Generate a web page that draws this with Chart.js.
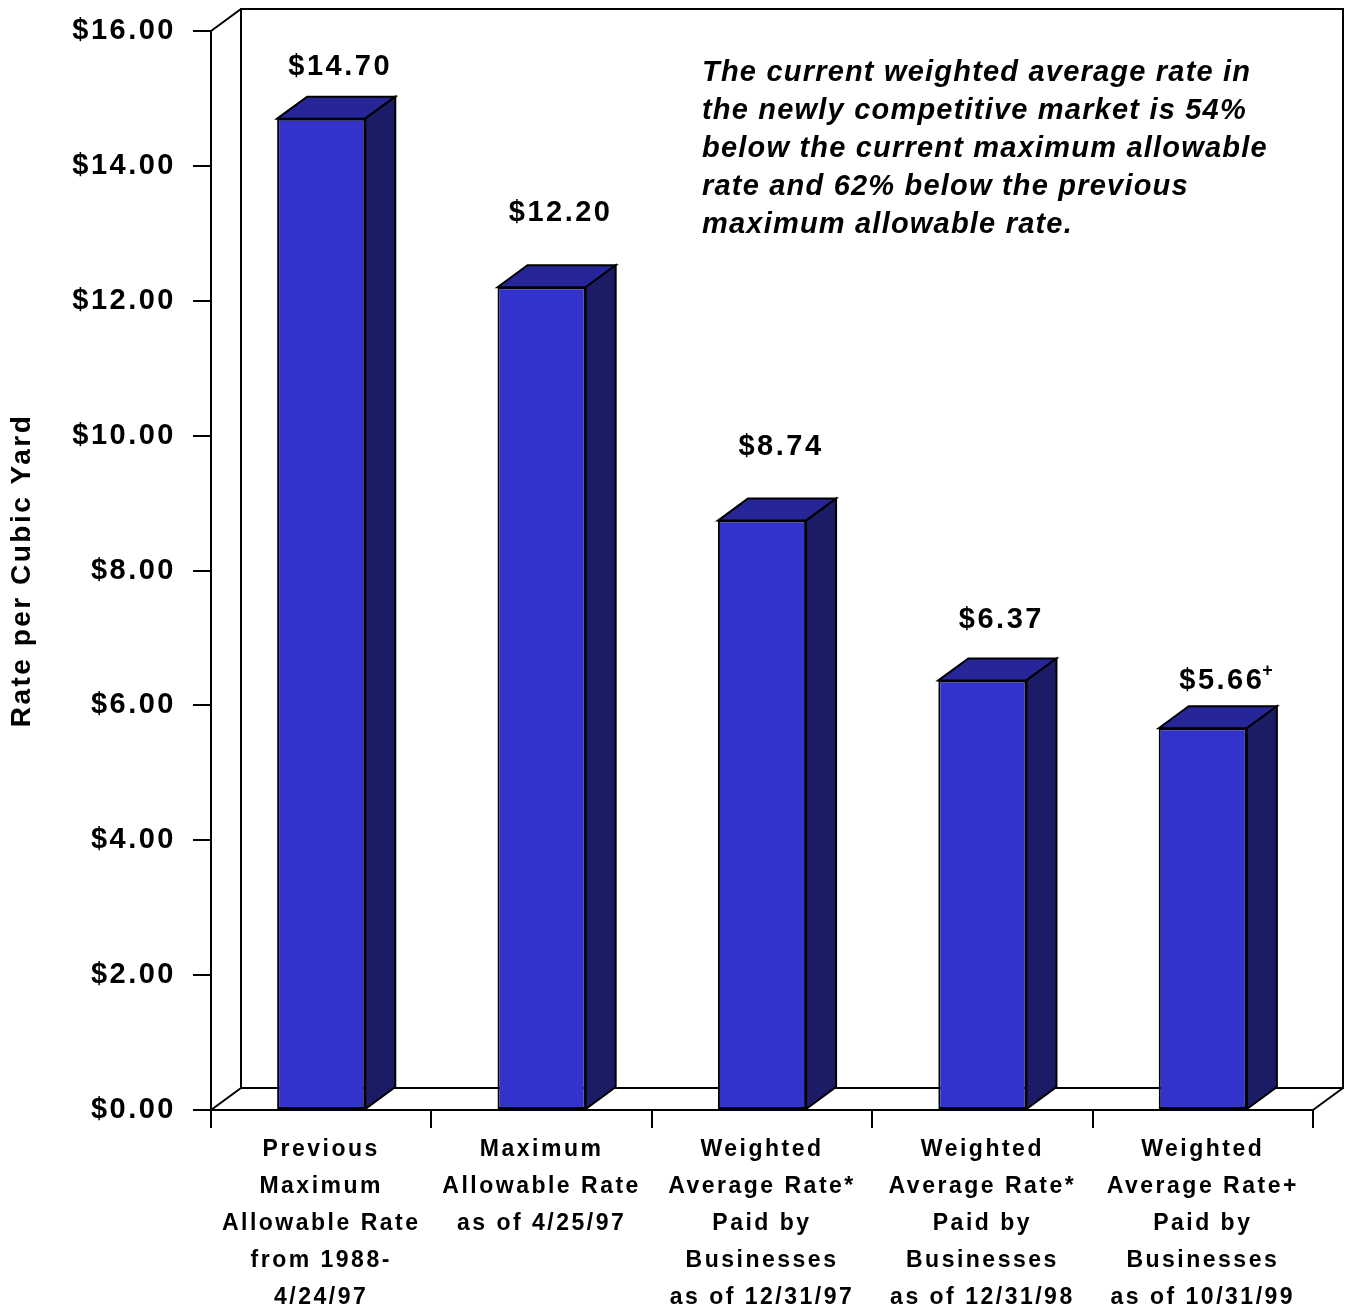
<!DOCTYPE html>
<html>
<head>
<meta charset="utf-8">
<title>Rate per Cubic Yard</title>
<script src="https://cdn.jsdelivr.net/npm/chart.js@4.4.1/dist/chart.umd.min.js"></script>
<style>
  html, body { margin: 0; padding: 0; background: #fff; }
</style>
</head>
<body>
<canvas id="rateChart" width="1351" height="1308"></canvas>
<script>
// categories (multi-line axis labels)
const categories = [
  ['Previous', 'Maximum', 'Allowable Rate', 'from 1988-', '4/24/97'],
  ['Maximum', 'Allowable Rate', 'as of 4/25/97'],
  ['Weighted', 'Average Rate*', 'Paid by', 'Businesses', 'as of 12/31/97'],
  ['Weighted', 'Average Rate*', 'Paid by', 'Businesses', 'as of 12/31/98'],
  ['Weighted', 'Average Rate+', 'Paid by', 'Businesses', 'as of 10/31/99']
];
const rates = [14.70, 12.20, 8.74, 6.37, 5.66];
const rateLabels = ['$14.70', '$12.20', '$8.74', '$6.37', '$5.66'];
const rateMarks = ['', '', '', '', '+'];
const yMax = 16;
const yStep = 2;
const yTitle = 'Rate per Cubic Yard';
const noteLines = [
  'The current weighted average rate in',
  'the newly competitive market is 54%',
  'below the current maximum allowable',
  'rate and 62% below the previous',
  'maximum allowable rate.'
];

// styling: how far each value label sits above the bar's back edge (px)
const labelLift = [30, 52, 52, 38, 25];

const FONT = "'Liberation Sans', Arial, sans-serif";
const DX = 30, DY = -22;   // depth of the 3d look
const FRONT = '#3333CC', TOP = '#262699', SIDE = '#1C1C66';

const spacing = {
  id: 'spacing',
  beforeDraw(chart) {
    chart.ctx.letterSpacing = '2.5px';
  }
};

// back wall, floor and the 3d faces of the bars
const threeD = {
  id: 'threeD',
  beforeDatasetsDraw(chart) {
    const { ctx, chartArea: a } = chart;
    ctx.save();
    ctx.strokeStyle = '#000';
    ctx.lineWidth = 2;
    ctx.beginPath();
    ctx.moveTo(a.left + DX, a.bottom + DY);
    ctx.lineTo(a.left + DX, a.top + DY);
    ctx.lineTo(a.right + DX, a.top + DY);
    ctx.lineTo(a.right + DX, a.bottom + DY);
    ctx.lineTo(a.left + DX, a.bottom + DY);
    ctx.moveTo(a.left, a.top);
    ctx.lineTo(a.left + DX, a.top + DY);
    ctx.moveTo(a.left, a.bottom);
    ctx.lineTo(a.left + DX, a.bottom + DY);
    ctx.moveTo(a.right, a.bottom);
    ctx.lineTo(a.right + DX, a.bottom + DY);
    ctx.stroke();
    ctx.restore();
  },
  afterDatasetsDraw(chart) {
    const ctx = chart.ctx;
    const bars = chart.getDatasetMeta(0).data;
    ctx.save();
    ctx.strokeStyle = '#000';
    ctx.lineWidth = 2;
    ctx.lineJoin = 'miter';
    bars.forEach((bar, i) => {
      const { x, y, width, base } = bar.getProps(['x', 'y', 'width', 'base'], true);
      const l = x - width / 2, r = x + width / 2;

      // top face
      ctx.beginPath();
      ctx.moveTo(l, y);
      ctx.lineTo(l + DX, y + DY);
      ctx.lineTo(r + DX, y + DY);
      ctx.lineTo(r, y);
      ctx.closePath();
      ctx.fillStyle = TOP;
      ctx.fill();
      ctx.stroke();

      // side face
      ctx.beginPath();
      ctx.moveTo(r, y);
      ctx.lineTo(r + DX, y + DY);
      ctx.lineTo(r + DX, base + DY);
      ctx.lineTo(r, base);
      ctx.closePath();
      ctx.fillStyle = SIDE;
      ctx.fill();
      ctx.stroke();

      // value label
      ctx.fillStyle = '#000';
      ctx.letterSpacing = '2.5px';
      ctx.font = 'bold 29px ' + FONT;
      ctx.textAlign = 'center';
      ctx.textBaseline = 'middle';
      const lx = x + DX / 2 + 4, ly = y + DY - labelLift[i];
      ctx.fillText(rateLabels[i], lx, ly);
      if (rateMarks[i]) {
        const w = ctx.measureText(rateLabels[i]).width;
        ctx.font = 'bold 18px ' + FONT;
        ctx.textAlign = 'left';
        ctx.fillText(rateMarks[i], lx + w / 2 - 2, ly - 10);
      }
    });
    ctx.restore();
  },
  afterDraw(chart) {
    const ctx = chart.ctx;
    ctx.save();
    ctx.letterSpacing = '1.2px';
    ctx.fillStyle = '#000';
    ctx.font = 'italic bold 29px ' + FONT;
    ctx.textAlign = 'left';
    ctx.textBaseline = 'middle';
    noteLines.forEach((t, i) => ctx.fillText(t, 702, 73 + i * 38));
    ctx.restore();
  }
};

new Chart(document.getElementById('rateChart'), {
  type: 'bar',
  data: {
    labels: categories,
    datasets: [{
      data: rates,
      backgroundColor: FRONT,
      borderColor: '#000',
      borderWidth: 2,
      borderSkipped: false,
      categoryPercentage: 1,
      barPercentage: 0.4
    }]
  },
  options: {
    responsive: false,
    animation: false,
    devicePixelRatio: 1,
    layout: { padding: { top: 31, right: 38, bottom: 0, left: 0 } },
    plugins: {
      legend: { display: false },
      tooltip: { enabled: false }
    },
    scales: {
      x: {
        offset: true,
        grid: {
          offset: true,
          drawOnChartArea: false,
          drawTicks: true,
          tickLength: 18,
          color: '#000',
          lineWidth: 2
        },
        border: { display: true, color: '#000', width: 2 },
        ticks: {
          color: '#000',
          padding: 3,
          maxRotation: 0,
          autoSkip: false,
          font: { family: FONT, size: 23, weight: 'bold', lineHeight: 37 / 23 }
        },
        afterFit(s) { s.height = 198; }
      },
      y: {
        min: 0,
        max: yMax,
        grid: {
          drawOnChartArea: false,
          drawTicks: true,
          tickLength: 18,
          color: '#000',
          lineWidth: 2
        },
        border: { display: true, color: '#000', width: 2 },
        ticks: {
          stepSize: yStep,
          color: '#000',
          padding: 17,
          font: { family: FONT, size: 29, weight: 'bold' },
          callback: v => '$' + Number(v).toFixed(2)
        },
        title: {
          display: true,
          text: yTitle,
          color: '#000',
          padding: { top: 5, bottom: 0 },
          font: { family: FONT, size: 28, weight: 'bold' }
        },
        afterFit(s) {
          s.width = 211;
          s.paddingTop = 0;
          s.paddingBottom = 0;
        }
      }
    }
  },
  plugins: [spacing, threeD]
});
</script>
</body>
</html>
